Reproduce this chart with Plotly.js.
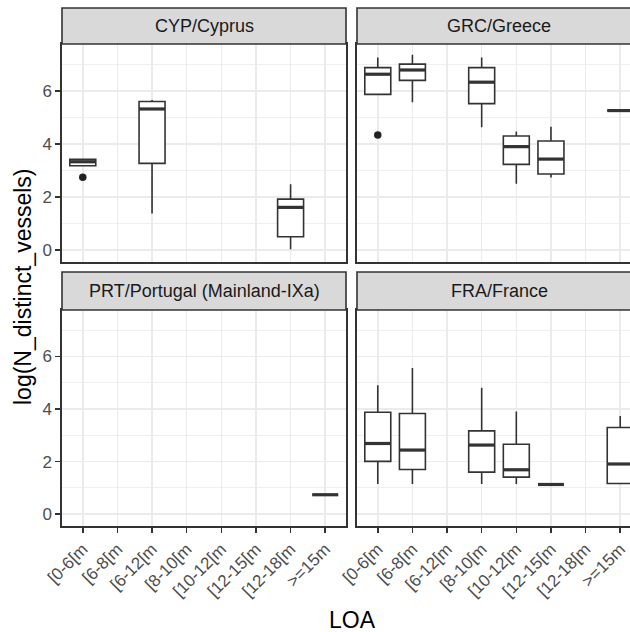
<!DOCTYPE html>
<html>
<head>
<meta charset="utf-8">
<script src="https://cdn.plot.ly/plotly-3.0.1.min.js"></script>
<style>
html,body{margin:0;padding:0;overflow:hidden;background:#fff;width:630px;height:632px;}
#chart{width:660px;height:632px;}
</style>
</head>
<body>
<div id="chart"></div>
<script>
// Categories (LOA classes)
const categories = ["[0-6[m","[6-8[m","[6-12[m","[8-10[m","[10-12[m","[12-15[m","[12-18[m",">=15m"];
const panelTitles = ["CYP/Cyprus","GRC/Greece","PRT/Portugal (Mainland-IXa)","FRA/France"];

// Cyprus
const cypCat    = ["[0-6[m","[6-12[m","[12-18[m"];
const cypLow    = [3.18, 1.38, 0.03];
const cypQ1     = [3.18, 3.27, 0.50];
const cypMed    = [3.33, 5.32, 1.61];
const cypQ3     = [3.42, 5.60, 1.92];
const cypHigh   = [3.42, 5.66, 2.48];
const cypOutCat = ["[0-6[m"];
const cypOutVal = [2.75];

// Greece
const grcCat    = ["[0-6[m","[6-8[m","[8-10[m","[10-12[m","[12-15[m",">=15m"];
const grcLow    = [5.87, 5.57, 4.63, 2.50, 2.74, 5.26];
const grcQ1     = [5.87, 6.40, 5.52, 3.23, 2.87, 5.26];
const grcMed    = [6.63, 6.79, 6.33, 3.90, 3.43, 5.26];
const grcQ3     = [6.88, 7.01, 6.88, 4.30, 4.11, 5.26];
const grcHigh   = [7.26, 7.36, 7.26, 4.47, 4.65, 5.26];
const grcOutCat = ["[0-6[m"];
const grcOutVal = [4.34];

// Portugal
const prtCat    = [">=15m"];
const prtLow    = [0.74];
const prtQ1     = [0.74];
const prtMed    = [0.74];
const prtQ3     = [0.74];
const prtHigh   = [0.74];
const prtOutCat = [];
const prtOutVal = [];

// France
const fraCat    = ["[0-6[m","[6-8[m","[8-10[m","[10-12[m","[12-15[m",">=15m"];
const fraLow    = [1.15, 1.15, 1.15, 1.15, 1.13, 1.17];
const fraQ1     = [2.01, 1.70, 1.60, 1.41, 1.13, 1.17];
const fraMed    = [2.69, 2.44, 2.63, 1.69, 1.13, 1.91];
const fraQ3     = [3.88, 3.83, 3.17, 2.66, 1.13, 3.30];
const fraHigh   = [4.91, 5.56, 4.81, 3.91, 1.13, 3.74];
const fraOutCat = [];
const fraOutVal = [];

const yTicks = [0, 2, 4, 6];

const W = 660, H = 632;
const px = v => v / W;
const py = v => 1 - v / H;
const colX = [[62, 346], [357, 641]];
const rowY = [[44, 262], [310, 526]];
const stripY = [[8, 44], [272, 310]];
const FONT = "Liberation Sans, Arial, sans-serif";

const panels = [
  {cat: cypCat, low: cypLow, q1: cypQ1, med: cypMed, q3: cypQ3, high: cypHigh, oc: cypOutCat, ov: cypOutVal, col: 0, row: 0},
  {cat: grcCat, low: grcLow, q1: grcQ1, med: grcMed, q3: grcQ3, high: grcHigh, oc: grcOutCat, ov: grcOutVal, col: 1, row: 0},
  {cat: prtCat, low: prtLow, q1: prtQ1, med: prtMed, q3: prtQ3, high: prtHigh, oc: prtOutCat, ov: prtOutVal, col: 0, row: 1},
  {cat: fraCat, low: fraLow, q1: fraQ1, med: fraMed, q3: fraQ3, high: fraHigh, oc: fraOutCat, ov: fraOutVal, col: 1, row: 1}
];

const dark = "#333333";
const traces = [];
const layout = {
  width: W, height: H,
  margin: {l: 0, r: 0, t: 0, b: 0},
  paper_bgcolor: "#ffffff", plot_bgcolor: "#ffffff",
  showlegend: false,
  font: {family: FONT, color: "#4D4D4D"},
  shapes: [], annotations: []
};

panels.forEach((p, i) => {
  const n = i + 1;
  const xa = n === 1 ? "x" : "x" + n;
  const ya = n === 1 ? "y" : "y" + n;
  traces.push({
    type: "box", x: p.cat, q1: p.q1, median: p.med, q3: p.q3,
    lowerfence: p.low, upperfence: p.high,
    xaxis: xa, yaxis: ya, width: 0.75, whiskerwidth: 0,
    boxpoints: false, fillcolor: "#ffffff",
    line: {color: dark, width: 1.6}, hoverinfo: "skip"
  });
  // thicker median line (ggplot fatten = 2)
  traces.push({
    type: "scatter", mode: "markers", x: p.cat, y: p.med, xaxis: xa, yaxis: ya,
    marker: {symbol: "line-ew", size: 18.5, color: dark, line: {color: dark, width: 3.2}},
    hoverinfo: "skip"
  });
  if (p.oc.length) {
    traces.push({
      type: "scatter", mode: "markers", x: p.oc, y: p.ov, xaxis: xa, yaxis: ya,
      marker: {symbol: "circle", size: 7.5, color: "#222222"}, hoverinfo: "skip"
    });
  }
  const xKey = n === 1 ? "xaxis" : "xaxis" + n;
  const yKey = n === 1 ? "yaxis" : "yaxis" + n;
  const cx = colX[p.col], ry = rowY[p.row], sy = stripY[p.row];
  layout[xKey] = {
    domain: [px(cx[0]), px(cx[1])], anchor: ya,
    type: "category", categoryorder: "array", categoryarray: categories,
    range: [-0.6, 7.6], fixedrange: true,
    showgrid: true, gridcolor: "#EBEBEB", gridwidth: 1.6,
    showline: true, mirror: true, linecolor: dark, linewidth: 1.6,
    zeroline: false,
    ticks: p.row === 1 ? "outside" : "", ticklen: 5, tickcolor: dark, tickwidth: 1.6,
    showticklabels: p.row === 1, tickangle: -45,
    tickfont: {size: 17, color: "#4D4D4D", family: FONT}
  };
  layout[yKey] = {
    domain: [py(ry[1]), py(ry[0])], anchor: xa,
    range: [-0.45, 7.77], fixedrange: true,
    tickvals: yTicks, ticktext: yTicks.map(String),
    showgrid: true, gridcolor: "#EBEBEB", gridwidth: 1.6,
    minor: {tickvals: [-1, 1, 3, 5, 7], showgrid: true, gridcolor: "#EBEBEB", gridwidth: 0.8, ticks: ""},
    showline: true, mirror: true, linecolor: dark, linewidth: 1.6,
    zeroline: false,
    ticks: p.col === 0 ? "outside" : "", ticklen: 5, tickcolor: dark, tickwidth: 1.6,
    showticklabels: p.col === 0,
    tickfont: {size: 17, color: "#4D4D4D", family: FONT}
  };
  layout.shapes.push({
    type: "rect", xref: "paper", yref: "paper",
    x0: px(cx[0]), x1: px(cx[1]), y0: py(sy[1]), y1: py(sy[0]),
    fillcolor: "#D9D9D9", line: {color: dark, width: 1.6}, layer: "above"
  });
  layout.annotations.push({
    xref: "paper", yref: "paper", x: px((cx[0] + cx[1]) / 2), y: py((sy[0] + sy[1]) / 2),
    xanchor: "center", yanchor: "middle", showarrow: false, text: panelTitles[i],
    font: {size: 18, color: "#1A1A1A", family: FONT}
  });
});

layout.annotations.push({
  xref: "paper", yref: "paper", x: px(23), y: py(287), xanchor: "center", yanchor: "middle",
  showarrow: false, textangle: -90, text: "log(N_distinct_vessels)",
  font: {size: 23, color: "#000000", family: FONT}
});
layout.annotations.push({
  xref: "paper", yref: "paper", x: px(352), y: py(620), xanchor: "center", yanchor: "middle",
  showarrow: false, text: "LOA",
  font: {size: 23, color: "#000000", family: FONT}
});

Plotly.newPlot("chart", traces, layout, {staticPlot: true, displayModeBar: false});
</script>
</body>
</html>
